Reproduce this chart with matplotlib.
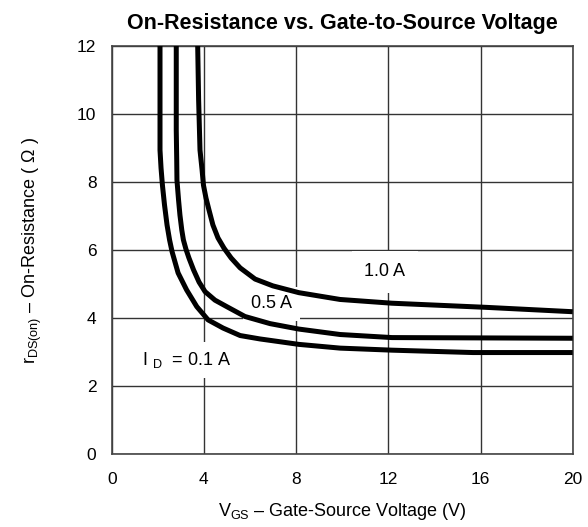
import matplotlib
matplotlib.use("Agg")
import matplotlib.pyplot as plt

plt.rcParams['font.family'] = ['Liberation Sans', 'DejaVu Sans']
plt.rcParams['mathtext.fontset'] = 'custom'
plt.rcParams['mathtext.rm'] = 'Liberation Sans'
plt.rcParams['mathtext.it'] = 'Liberation Sans:italic'
plt.rcParams['mathtext.bf'] = 'Liberation Sans:bold'

# Data (V_GS in volts, r_DS(on) in ohms)
vgs_01 = [2.095, 2.095, 2.14, 2.20, 2.29, 2.40, 2.51, 2.62, 2.88, 3.25, 3.69, 4.18,
          4.83, 5.57, 6.43, 8.12, 9.91, 12.16, 15.67, 20.0]
rds_01 = [12.0, 8.94, 8.41, 7.91, 7.33, 6.74, 6.30, 5.95, 5.33, 4.83, 4.34, 3.95,
          3.71, 3.49, 3.39, 3.23, 3.12, 3.06, 2.99, 2.99]

vgs_05 = [2.80, 2.80, 2.82, 2.83, 2.90, 2.96, 3.04, 3.11, 3.22, 3.35, 3.55, 3.79,
          4.05, 4.48, 4.99, 5.78, 6.87, 8.12, 9.91, 12.16, 20.0]
rds_05 = [12.0, 9.53, 8.65, 8.06, 7.47, 7.03, 6.59, 6.30, 6.03, 5.77, 5.42, 5.06,
          4.78, 4.53, 4.34, 4.05, 3.84, 3.68, 3.52, 3.43, 3.41]

vgs_10 = [3.73, 3.77, 3.83, 3.92, 3.98, 4.09, 4.22, 4.39, 4.61, 4.87, 5.18, 5.57,
          6.22, 6.99, 8.12, 9.91, 12.16, 16.2, 20.0]
rds_10 = [12.0, 10.42, 8.94, 8.36, 7.91, 7.53, 7.18, 6.74, 6.36, 6.06, 5.77, 5.48,
          5.15, 4.95, 4.75, 4.55, 4.44, 4.32, 4.19]

x_ticks = [0, 4, 8, 12, 16, 20]
y_ticks = [0, 2, 4, 6, 8, 10, 12]

fig = plt.figure(figsize=(5.88, 5.27), dpi=100)
ax = fig.add_axes([0.190, 0.138, 0.784, 0.7747])

for v, r in [(vgs_01, rds_01), (vgs_05, rds_05), (vgs_10, rds_10)]:
    ax.plot(v, r, color='black', lw=3.6, solid_capstyle='butt',
            solid_joinstyle='round', zorder=3, clip_on=True)

ax.set_xlim(0, 20)
ax.set_ylim(0, 12)
ax.set_xticks(x_ticks)
ax.set_yticks(y_ticks)
ax.tick_params(length=0, labelsize=12.5, pad=11)
ax.tick_params(axis='x', pad=13)
ax.set_axisbelow(True)
ax.grid(True, color='#333333', lw=1.0)
for s in ax.spines.values():
    s.set_color('#444444')
    s.set_linewidth(1.2)

box = dict(facecolor='white', edgecolor='none', pad=6)
ax.text(11.85, 5.37, '1.0 A', ha='center', va='center', fontsize=13,
        bbox=dict(facecolor='white', edgecolor='none', pad=9), zorder=2)
ax.text(6.93, 4.42, '0.5 A', ha='center', va='center', fontsize=13,
        bbox=box, zorder=2)
ax.text(3.27, 2.77, r'I $_{\mathrm{D}}$  = 0.1 A', ha='center', va='center',
        fontsize=13, bbox=box, zorder=2)

ax.set_title('On-Resistance vs. Gate-to-Source Voltage', fontsize=15.5,
             fontweight='bold', pad=12)
ax.set_xlabel(r'V$_{\mathrm{GS}}$ – Gate-Source Voltage (V)', fontsize=13,
              labelpad=10)
ax.set_ylabel(r'r$_{\mathrm{DS(on)}}$ – On-Resistance ( Ω )', fontsize=13,
              labelpad=24)

fig.savefig('out.png', dpi=100)
